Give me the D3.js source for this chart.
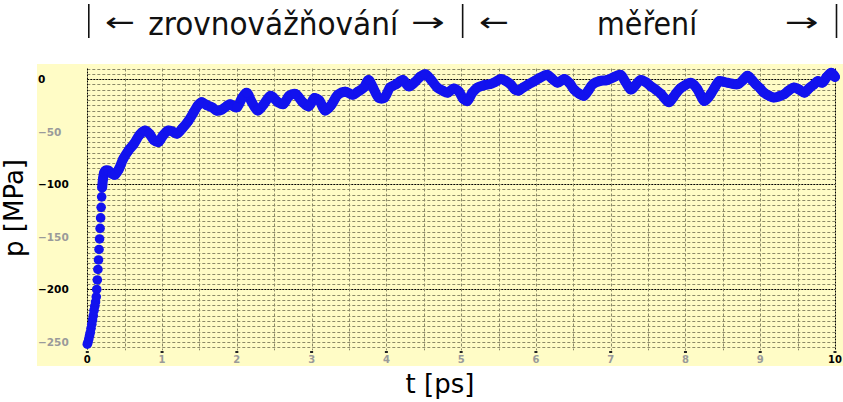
<!DOCTYPE html>
<html>
<head>
<meta charset="utf-8">
<script src="https://cdn.jsdelivr.net/npm/d3@7"></script>
<style>
  html, body { margin: 0; padding: 0; background: #ffffff; }
  svg { display: block; }
</style>
</head>
<body>
<svg id="chart" width="843" height="402"></svg>
<script>
// ---- data ----
const time = [
  0.000, 0.010, 0.020, 0.030, 0.040, 0.050, 0.060, 0.070, 0.080, 0.090,
  0.100, 0.110, 0.120, 0.126, 0.134, 0.142, 0.150, 0.157, 0.164, 0.171,
  0.178, 0.185, 0.192, 0.199, 0.210, 0.225, 0.245, 0.28, 0.33, 0.37,
  0.42, 0.48, 0.55, 0.62, 0.70, 0.77, 0.83, 0.89, 0.95, 1.01,
  1.08, 1.14, 1.20, 1.27, 1.35, 1.42, 1.48, 1.53, 1.60, 1.67,
  1.73, 1.80, 1.86, 1.91, 1.96, 2.00, 2.07, 2.13, 2.20, 2.28,
  2.36, 2.45, 2.55, 2.62, 2.70, 2.78, 2.88, 2.96, 3.04, 3.10,
  3.18, 3.26, 3.35, 3.45, 3.55, 3.62, 3.70, 3.76, 3.82, 3.90,
  3.97, 4.05, 4.13, 4.22, 4.30, 4.38, 4.45, 4.52, 4.60, 4.68,
  4.75, 4.82, 4.90, 4.97, 5.03, 5.08, 5.15, 5.22, 5.30, 5.38,
  5.45, 5.53, 5.60, 5.66, 5.72, 5.77, 5.83, 5.90, 5.98, 6.05,
  6.15, 6.22, 6.29, 6.38, 6.45, 6.51, 6.58, 6.64, 6.70, 6.76,
  6.85, 6.95, 7.05, 7.13, 7.20, 7.27, 7.33, 7.40, 7.47, 7.54,
  7.60, 7.67, 7.73, 7.78, 7.83, 7.87, 7.93, 7.98, 8.07, 8.12,
  8.16, 8.20, 8.25, 8.30, 8.34, 8.40, 8.45, 8.50, 8.56, 8.63,
  8.70, 8.77, 8.83, 8.89, 8.94, 9.00, 9.05, 9.12, 9.18, 9.25,
  9.32, 9.38, 9.45, 9.52, 9.59, 9.65, 9.72, 9.77, 9.83, 9.89,
  9.95, 10.00
];
const pressure = [
  -252, -250, -247, -244, -241, -237, -233, -229, -225, -220,
  -216, -212, -207, -200, -191, -181, -172, -162, -152, -142,
  -132, -122, -112, -103, -95, -89, -87, -87, -90, -91,
  -86, -76, -68, -62, -53, -49, -52, -58, -60, -54,
  -49, -50, -52, -47, -40, -32, -25, -22, -25, -27,
  -30, -29, -26, -24, -26, -27, -18, -13, -22, -30,
  -24, -16, -22, -24, -16, -14, -22, -26, -18, -20,
  -30, -25, -15, -12, -15, -12, -8, -1, -8, -18,
  -18, -8, -5, -1, -7, -3, 2, 4.5, -1, -8,
  -11, -13, -9, -12, -19, -21, -13, -8, -6, -5,
  -3, 0, -2, -5, -10, -11, -8, -5, -2, 1,
  4, 0, -3.5, 0, -4, -10, -14, -16, -11, -5,
  -2, -1, 2, 4, -3, -10, -6, -1, -3, -7,
  -10, -14, -19, -22, -18, -14, -9, -6.6, -3.5, -6,
  -9.7, -15, -21, -18, -14, -7, -2, -2.5, -3.5, -4.5,
  -5, -1, 3, -1, -5, -9, -13, -16, -17.6, -16.5,
  -14.5, -11, -8, -10, -13, -9, -5, -2, -3.5, 2,
  6, 2
];
const xTicks = [0, 1, 2, 3, 4, 5, 6, 7, 8, 9, 10];
const xTickLabels = ["0", "1", "2", "3", "4", "5", "6", "7", "8", "9", "10"];
const yTicks = [0, -50, -100, -150, -200, -250];
const yTickLabels = ["0", "\u221250", "\u2212100", "\u2212150", "\u2212200", "\u2212250"];
const phaseLabels = ["zrovnovážňování", "měření"];
const phaseBounds = [0, 5, 10];
const xTitle = "t [ps]";
const yTitle = "p [MPa]";

// ---- drawing ----
const svg = d3.select("#chart");
const x = d3.scaleLinear().domain([0, 10]).range([87.3, 835]);
const y = d3.scaleLinear().domain([10, -255]).range([68.5, 347.3]);

// panel background
svg.append("rect")
  .attr("x", 37).attr("y", 64)
  .attr("width", 843 - 37).attr("height", 366 - 64)
  .attr("fill", "#fffcc6");

const grid = svg.append("g");
// horizontal grid every 5 MPa
const hLines = d3.range(-255, 10.001, 5);
grid.selectAll(".h").data(hLines).join("line")
  .attr("x1", x(0)).attr("x2", x(10))
  .attr("y1", d => Math.round(y(d)) + 0.5).attr("y2", d => Math.round(y(d)) + 0.5)
  .attr("stroke", d => (d % 100 === 0) ? "#000000" : "#8c8a68")
  .attr("stroke-width", 1)
  .attr("stroke-dasharray", d => (d % 100 === 0) ? "2,1" : "3,2");
// vertical grid every 0.5 ps
const vLines = d3.range(0, 10.001, 0.5);
grid.selectAll(".v").data(vLines).join("line")
  .attr("x1", d => Math.round(x(d)) + 0.5).attr("x2", d => Math.round(x(d)) + 0.5)
  .attr("y1", y(10)).attr("y2", y(-255) + 3)
  .attr("stroke", d => (d === 0 || d === 10) ? "#000000" : "#8c8a68")
  .attr("stroke-width", 1)
  .attr("stroke-dasharray", d => (d === 0 || d === 10) ? "2,1" : "3,2");

// x ticks and labels
const xt = svg.append("g");
xt.selectAll("rect").data(xTicks).join("rect")
  .attr("x", d => x(d) - 1.5).attr("y", 351)
  .attr("width", 3).attr("height", 2)
  .attr("fill", "#222");
xt.selectAll("text").data(xTicks).join("text")
  .attr("x", d => x(d)).attr("y", 363)
  .attr("text-anchor", "middle")
  .attr("font-family", "DejaVu Sans, Verdana, sans-serif")
  .attr("font-weight", "bold")
  .attr("font-size", 10)
  .attr("fill", (d, i) => (d === 0 || d === 10) ? "#000" : "#9a9a9a")
  .text((d, i) => xTickLabels[i]);

// y labels
svg.append("g").selectAll("text").data(yTicks).join("text")
  .attr("x", 38).attr("y", d => y(d) + 4)
  .attr("text-anchor", "start")
  .attr("font-family", "DejaVu Sans, Verdana, sans-serif")
  .attr("font-weight", "bold")
  .attr("font-size", 10.5)
  .attr("fill", d => (d % 100 === 0) ? "#000" : "#9a9a9a")
  .text((d, i) => yTickLabels[i]);

// data
const pts = time.map((t, i) => ({ t: t, p: pressure[i] }));
const blue = "#1212ee";
const line = d3.line().x(d => x(d.t)).y(d => y(d.p)).curve(d3.curveCatmullRom);
svg.append("path")
  .datum(pts.filter(d => d.t >= 0.199))
  .attr("d", line)
  .attr("fill", "none")
  .attr("stroke", blue)
  .attr("stroke-width", 10)
  .attr("stroke-linecap", "round")
  .attr("stroke-linejoin", "round");
svg.append("g").selectAll("circle").data(pts).join("circle")
  .attr("cx", d => x(d.t)).attr("cy", d => y(d.p))
  .attr("r", 4.8)
  .attr("fill", blue);

// axis titles
svg.append("text")
  .attr("x", 440).attr("y", 393)
  .attr("text-anchor", "middle")
  .attr("font-family", "DejaVu Sans, Liberation Sans, sans-serif")
  .attr("font-size", 26)
  .attr("fill", "#000")
  .text(xTitle);
svg.append("text")
  .attr("transform", "translate(23,208) rotate(-90)")
  .attr("text-anchor", "middle")
  .attr("font-family", "DejaVu Sans, Liberation Sans, sans-serif")
  .attr("font-size", 26)
  .attr("fill", "#000")
  .text(yTitle);

// phase header
const head = svg.append("g")
  .attr("font-family", "Liberation Sans Narrow, DejaVu Sans Condensed, sans-serif")
  .attr("fill", "#111");
head.selectAll(".bar").data(phaseBounds).join("line")
  .attr("x1", d => x(d) + 1.5).attr("x2", d => x(d) + 1.5)
  .attr("y1", 4).attr("y2", 38)
  .attr("stroke", "#111").attr("stroke-width", 1.6);
// left arrows
head.selectAll(".la").data(phaseBounds.slice(0, 2)).join("text")
  .attr("x", d => x(d) + 18).attr("y", 31)
  .attr("font-family", "DejaVu Sans, sans-serif")
  .attr("font-size", 26)
  .attr("textLength", 30).attr("lengthAdjust", "spacingAndGlyphs")
  .text("\u2190");
// right arrows
head.selectAll(".ra").data(phaseBounds.slice(1)).join("text")
  .attr("x", d => x(d) - 50).attr("y", 31)
  .attr("font-family", "DejaVu Sans, sans-serif")
  .attr("font-size", 26)
  .attr("textLength", 34).attr("lengthAdjust", "spacingAndGlyphs")
  .text("\u2192");
const labelWidths = [250, 100];
head.selectAll(".pl").data(phaseLabels).join("text")
  .attr("x", (d, i) => x((phaseBounds[i] + phaseBounds[i + 1]) / 2) - 1)
  .attr("y", 35)
  .attr("text-anchor", "middle")
  .attr("font-size", 32)
  .attr("textLength", (d, i) => labelWidths[i]).attr("lengthAdjust", "spacingAndGlyphs")
  .text(d => d);
</script>
</body>
</html>
